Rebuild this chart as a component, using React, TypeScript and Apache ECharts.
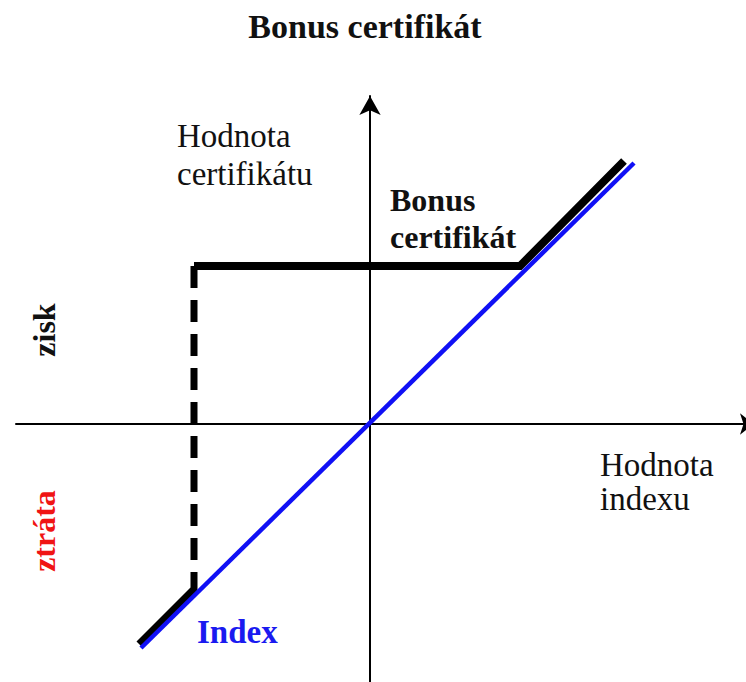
import React, { useEffect, useRef } from "react";
import * as echarts from "echarts";

// Data coordinates: origin is where the two axes cross.
const indexLine: number[][] = [[-229, -224], [264, 261]];
const bonusLower: number[][] = [[-231, -220], [-177, -166]];
const bonusBarrier: number[][] = [[-176, 158], [-176, -168]];
const bonusUpper: number[][] = [[-176, 158], [150, 158], [254, 263]];

const titleText = "Bonus certifikát";
const yAxisLabel = ["Hodnota", "certifikátu"];
const xAxisLabel = ["Hodnota", "indexu"];
const bonusLabel = ["Bonus", "certifikát"];
const indexLabel = "Index";
const gainLabel = "zisk";
const lossLabel = "ztráta";

const SERIF = '"Liberation Serif", "Times New Roman", Times, serif';

export default function App() {
  const ref = useRef<HTMLDivElement>(null);
  useEffect(() => {
    if (!ref.current) return;
    const chart = echarts.init(ref.current, null, { renderer: "svg" });
    const font = (size: number, bold: boolean) =>
      `${bold ? "bold " : ""}${size}px ${SERIF}`;
    const axisCommon = {
      type: "value" as const,
      axisTick: { show: false },
      axisLabel: { show: false },
      splitLine: { show: false },
    };
    chart.setOption({
      animation: false,
      backgroundColor: "#ffffff",
      grid: { left: 16, right: 0, top: 96, bottom: 0, containLabel: false },
      xAxis: {
        ...axisCommon,
        min: -354,
        max: 376,
        axisLine: {
          show: true,
          onZero: true,
          symbol: ["none", "arrow"],
          symbolSize: [16, 14],
          symbolOffset: [0, 8],
          lineStyle: { color: "#000", width: 2 },
        },
      },
      yAxis: {
        ...axisCommon,
        min: -258,
        max: 328,
        axisLine: {
          show: true,
          onZero: true,
          symbol: ["none", "arrow"],
          symbolSize: [16, 19],
          lineStyle: { color: "#000", width: 2 },
        },
      },
      series: [
        {
          type: "line",
          data: bonusLower,
          symbol: "none",
          z: 2,
          lineStyle: { color: "#000", width: 7, cap: "butt" },
        },
        {
          type: "line",
          data: bonusBarrier,
          symbol: "none",
          z: 2,
          lineStyle: { color: "#000", width: 7, type: [22, 12], cap: "butt" },
        },
        {
          type: "line",
          data: bonusUpper,
          symbol: "none",
          z: 2,
          lineStyle: { color: "#000", width: 8, cap: "butt", join: "miter" },
        },
        {
          type: "line",
          data: indexLine,
          symbol: "none",
          z: 3,
          lineStyle: { color: "#1010f5", width: 4.5, cap: "butt" },
        },
      ],
      graphic: [
        {
          type: "text",
          x: 365,
          y: 26,
          style: { text: titleText, font: font(34, true), fill: "#111", textAlign: "center", textVerticalAlign: "middle" },
        },
        {
          type: "text",
          x: 177,
          y: 136,
          style: { text: yAxisLabel[0], font: font(33, false), fill: "#111", textAlign: "left", textVerticalAlign: "middle" },
        },
        {
          type: "text",
          x: 177,
          y: 174,
          style: { text: yAxisLabel[1], font: font(33, false), fill: "#111", textAlign: "left", textVerticalAlign: "middle" },
        },
        {
          type: "text",
          x: 390,
          y: 200,
          style: { text: bonusLabel[0], font: font(32, true), fill: "#111", textAlign: "left", textVerticalAlign: "middle" },
        },
        {
          type: "text",
          x: 390,
          y: 237,
          style: { text: bonusLabel[1], font: font(32, true), fill: "#111", textAlign: "left", textVerticalAlign: "middle" },
        },
        {
          type: "text",
          x: 600,
          y: 465,
          style: { text: xAxisLabel[0], font: font(33, false), fill: "#111", textAlign: "left", textVerticalAlign: "middle" },
        },
        {
          type: "text",
          x: 600,
          y: 499,
          style: { text: xAxisLabel[1], font: font(33, false), fill: "#111", textAlign: "left", textVerticalAlign: "middle" },
        },
        {
          type: "text",
          x: 197,
          y: 632,
          style: { text: indexLabel, font: font(33, true), fill: "#1a1af0", textAlign: "left", textVerticalAlign: "middle" },
        },
        {
          type: "text",
          x: 44,
          y: 330,
          rotation: Math.PI / 2,
          style: { text: gainLabel, font: font(32, true), fill: "#111", textAlign: "center", textVerticalAlign: "middle" },
        },
        {
          type: "text",
          x: 44,
          y: 531,
          rotation: Math.PI / 2,
          style: { text: lossLabel, font: font(32, true), fill: "#f01414", textAlign: "center", textVerticalAlign: "middle" },
        },
      ],
    });
    return () => chart.dispose();
  }, []);
  return <div ref={ref} style={{ width: 746, height: 682, position: "absolute", left: 0, top: 0 }} />;
}
